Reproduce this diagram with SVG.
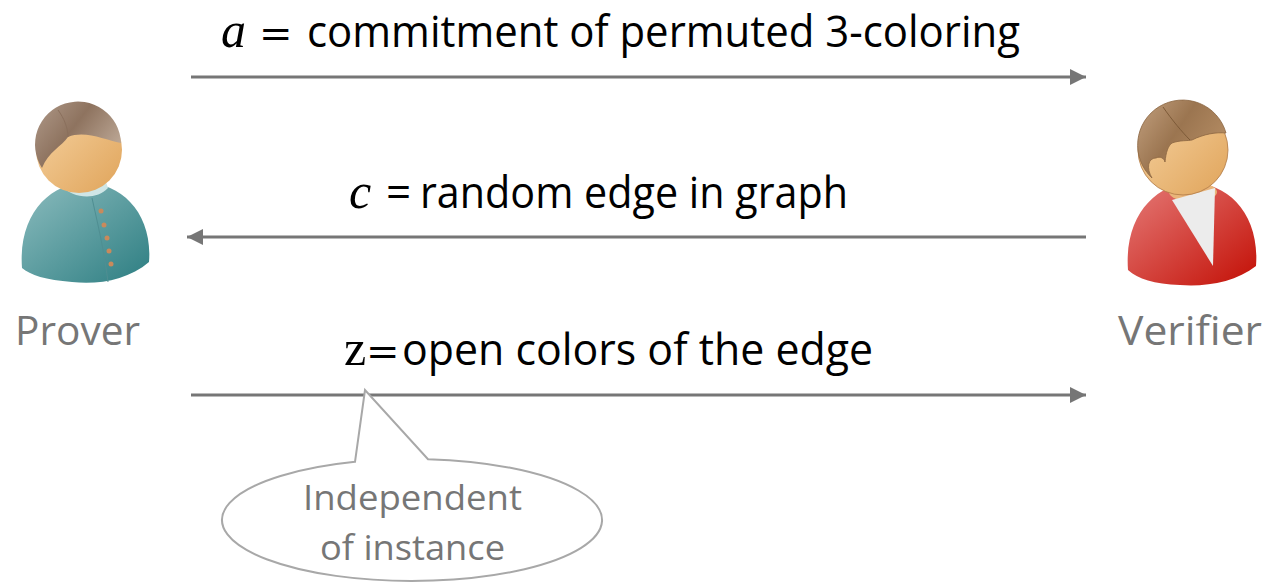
<svg xmlns="http://www.w3.org/2000/svg" width="1265" height="583" viewBox="0 0 1265 583">
  <style>
    .msg { font-family: "Open Sans", "Noto Sans", sans-serif; font-size: 44px; fill: #000; }
    .math { font-family: "Liberation Serif", "DejaVu Serif", serif; font-size: 50px; fill: #000; }
    .eq { font-family: "DejaVu Serif", "Liberation Serif", serif; font-size: 40px; fill: #000; }
    .role { font-family: "Open Sans", "Noto Sans", sans-serif; font-size: 40px; fill: #767676; }
    .note { font-family: "Open Sans", "Noto Sans", sans-serif; font-size: 35px; fill: #767676; }
    .wire { stroke: #767676; stroke-width: 3; fill: none; }
  </style>
  <defs>
    <marker id="head" markerUnits="userSpaceOnUse" markerWidth="18" markerHeight="16" refX="16" refY="8" orient="auto">
      <path d="M0,0 L16,8 L0,16 Z" fill="#767676"/>
    </marker>
    <linearGradient id="skin" x1="0" y1="0" x2="1" y2="1">
      <stop offset="0" stop-color="#f6d3a2"/>
      <stop offset="1" stop-color="#e0a45a"/>
    </linearGradient>
    <linearGradient id="hairP" x1="0" y1="0" x2="1" y2="0.6">
      <stop offset="0" stop-color="#b09a8a"/>
      <stop offset="0.5" stop-color="#8e735f"/>
      <stop offset="1" stop-color="#bba694"/>
    </linearGradient>
    <linearGradient id="hairV" x1="0" y1="0" x2="1" y2="0.6">
      <stop offset="0" stop-color="#c2a07f"/>
      <stop offset="0.5" stop-color="#9b7550"/>
      <stop offset="1" stop-color="#b58d64"/>
    </linearGradient>
    <linearGradient id="teal" x1="0" y1="0" x2="1" y2="1">
      <stop offset="0" stop-color="#8cbcbe"/>
      <stop offset="1" stop-color="#2d7e82"/>
    </linearGradient>
    <linearGradient id="red" x1="0" y1="0" x2="1" y2="1">
      <stop offset="0" stop-color="#e57b78"/>
      <stop offset="1" stop-color="#c30f05"/>
    </linearGradient>
  </defs>

  <!-- Prover figure -->
  <g id="prover">
    <path d="M22,268 C18,214 50,183 86,183 C122,183 153,214 149,262 C128,280 98,285 72,282 C46,280 30,275 22,268 Z" fill="url(#teal)"/>
    <path d="M62,186 C72,198 96,201 108,188 L106,182 C94,192 74,191 64,181 Z" fill="#cfe6e6"/>
    <path d="M92,198 C98,225 104,250 108,282" stroke="#4f8e92" stroke-width="1" fill="none"/>
    <g fill="#c98a5c">
      <circle cx="101" cy="211" r="2.5"/>
      <circle cx="104" cy="225" r="2.5"/>
      <circle cx="107" cy="238" r="2.5"/>
      <circle cx="109" cy="251" r="2.5"/>
      <circle cx="111" cy="264" r="2.5"/>
    </g>
    <circle cx="79" cy="150" r="43" fill="url(#skin)"/>
    <path d="M42,168 C48,152 62,146 68,137 C85,130 105,140 121,143 A43,43 0 1 0 42,168 Z" fill="url(#hairP)"/>
    <path d="M58,110 C64,118 68,128 68,137" stroke="#8a6f5c" stroke-width="1" fill="none"/>
  </g>
  <text class="role" x="15" y="345" textLength="125" lengthAdjust="spacingAndGlyphs">Prover</text>

  <!-- Verifier figure -->
  <g id="verifier">
    <path d="M1128,270 C1124,216 1156,183 1192,183 C1228,183 1260,214 1256,266 C1236,282 1206,287 1180,285 C1154,284 1138,279 1128,270 Z" fill="url(#red)"/>
    <ellipse cx="1193" cy="192" rx="24" ry="10" fill="#e9b57a"/>
    <path d="M1172,200 L1215,188 L1213,266 Z" fill="#ececec"/>
    <circle cx="1183" cy="150" r="45" fill="url(#skin)" stroke="#b07a46" stroke-width="0.8"/>
    <path d="M1152,178 C1146,168 1148,158 1156,158 C1160,156 1164,158 1165,162 C1166,152 1168,146 1172,143 C1180,140 1188,141 1192,140 C1204,134 1216,132 1226,133 A45,45 0 1 0 1152,178 Z" fill="url(#hairV)" stroke="#8a6440" stroke-width="0.8"/>
    <path d="M1163,107 C1172,120 1182,132 1190,140" stroke="#7d5a38" stroke-width="1" fill="none"/>
  </g>
  <text class="role" x="1118" y="345" textLength="144" lengthAdjust="spacingAndGlyphs">Verifier</text>

  <!-- Messages -->
  <g id="connectors">
    <line class="wire" x1="191" y1="77" x2="1086" y2="77" marker-end="url(#head)"/>
    <line class="wire" x1="1086" y1="237" x2="187" y2="237" marker-end="url(#head)"/>
    <line class="wire" x1="191" y1="395" x2="1086" y2="395" marker-end="url(#head)"/>
  </g>

  <g id="msg-a">
    <text class="math" x="221" y="47" font-style="italic">a</text>
    <text class="eq" x="259" y="47">=</text>
    <text class="msg" x="307" y="47" textLength="713" lengthAdjust="spacingAndGlyphs">commitment of permuted 3-coloring</text>
  </g>
  <g id="msg-c">
    <text class="math" x="349" y="208" font-style="italic">c</text>
    <text class="msg" x="386" y="208">=</text>
    <text class="msg" x="420" y="208" textLength="428" lengthAdjust="spacingAndGlyphs">random edge in graph</text>
  </g>
  <g id="msg-z">
    <text class="math" x="344" y="365">z</text>
    <text class="eq" x="366" y="365">=</text>
    <text class="msg" x="402" y="365" textLength="471" lengthAdjust="spacingAndGlyphs">open colors of the edge</text>
  </g>

  <!-- Callout -->
  <g id="callout">
    <path d="M428,459.2 A190,61 0 1 1 355,461.8 L365,390 Z" fill="#fff" stroke="#a8a8a8" stroke-width="2" stroke-linejoin="miter"/>
    <text class="note" x="303" y="510" textLength="219" lengthAdjust="spacingAndGlyphs">Independent</text>
    <text class="note" x="320" y="560" textLength="185" lengthAdjust="spacingAndGlyphs">of instance</text>
  </g>
</svg>
